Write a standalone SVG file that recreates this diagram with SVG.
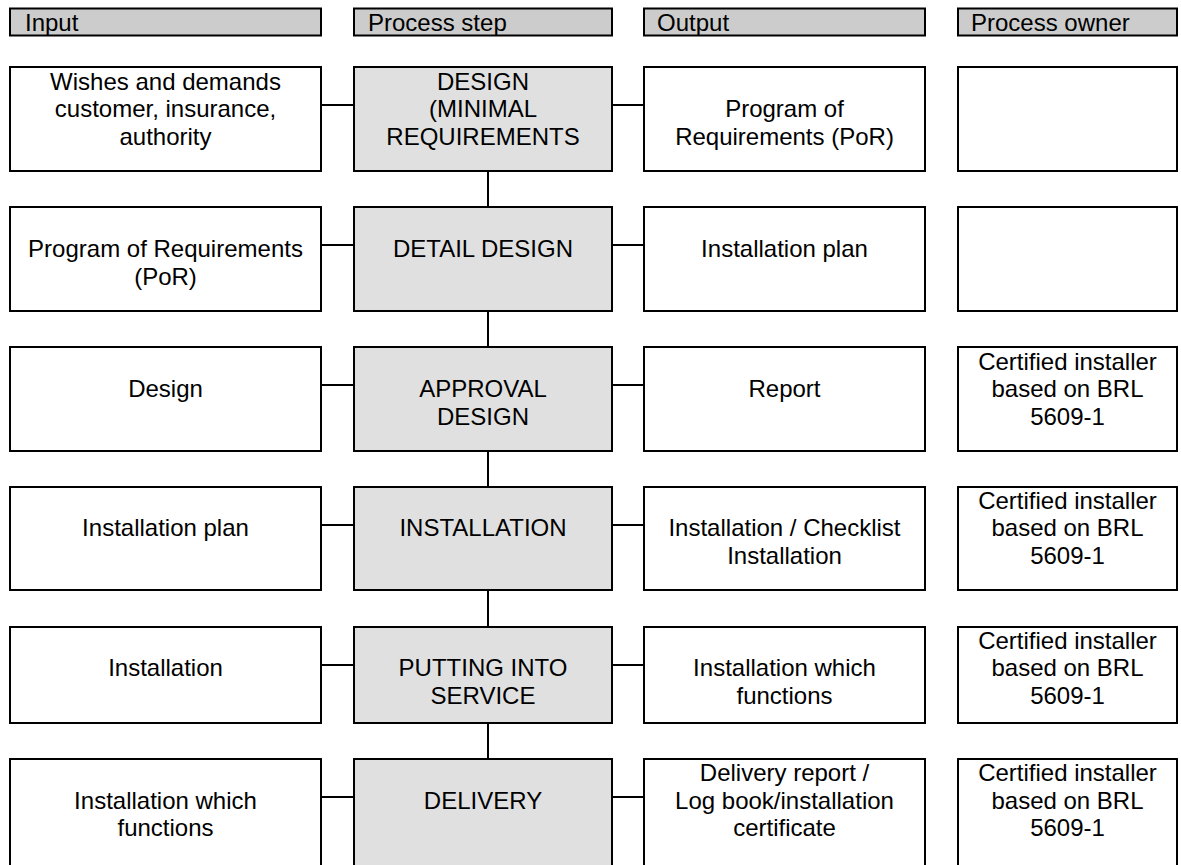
<svg xmlns="http://www.w3.org/2000/svg" width="1181" height="865" viewBox="0 0 1181 865">
  <style>
    .hdr { fill: #cccccc; stroke: #000; stroke-width: 2; }
    .box { fill: #ffffff; stroke: #000; stroke-width: 2; }
    .step { fill: #e0e0e0; stroke: #000; stroke-width: 2; }
    .link { stroke: #000; stroke-width: 2; fill: none; }
    text { font-family: "Liberation Sans", Arial, sans-serif; font-size: 24px; fill: #000; }
    .c { text-anchor: middle; }
  </style>
  <rect width="1181" height="865" fill="#ffffff"/>

  <!-- column headers -->
  <g id="headers">
    <rect class="hdr" x="10" y="8.5" width="311" height="27"/>
    <text x="25" y="31">Input</text>
    <rect class="hdr" x="354" y="8.5" width="258" height="27"/>
    <text x="368" y="31">Process step</text>
    <rect class="hdr" x="644" y="8.5" width="281" height="27"/>
    <text x="657" y="31">Output</text>
    <rect class="hdr" x="958" y="8.5" width="219" height="27"/>
    <text x="971" y="31">Process owner</text>
  </g>

  <!-- connectors -->
  <g id="connectors">
    <line class="link" x1="488" y1="172" x2="488" y2="206"/>
    <line class="link" x1="488" y1="312" x2="488" y2="346"/>
    <line class="link" x1="488" y1="452" x2="488" y2="487"/>
    <line class="link" x1="488" y1="591" x2="488" y2="626"/>
    <line class="link" x1="488" y1="724" x2="488" y2="758"/>
    <line class="link" x1="322" y1="105" x2="354" y2="105"/>
    <line class="link" x1="612" y1="105" x2="644" y2="105"/>
    <line class="link" x1="322" y1="245" x2="354" y2="245"/>
    <line class="link" x1="612" y1="245" x2="644" y2="245"/>
    <line class="link" x1="322" y1="385" x2="354" y2="385"/>
    <line class="link" x1="612" y1="385" x2="644" y2="385"/>
    <line class="link" x1="322" y1="525" x2="354" y2="525"/>
    <line class="link" x1="612" y1="525" x2="644" y2="525"/>
    <line class="link" x1="322" y1="665" x2="354" y2="665"/>
    <line class="link" x1="612" y1="665" x2="644" y2="665"/>
    <line class="link" x1="322" y1="797" x2="354" y2="797"/>
    <line class="link" x1="612" y1="797" x2="644" y2="797"/>
  </g>

  <!-- row 1 -->
  <g id="in1">
    <rect class="box" x="10" y="67" width="311" height="104"/>
    <text class="c" x="165.5" y="89.5">Wishes and demands</text>
    <text class="c" x="165.5" y="117">customer, insurance,</text>
    <text class="c" x="165.5" y="144.5">authority</text>
  </g>
  <g id="step1">
    <rect class="step" x="354" y="67" width="258" height="104"/>
    <text class="c" x="483" y="89.5">DESIGN</text>
    <text class="c" x="483" y="117">(MINIMAL</text>
    <text class="c" x="483" y="144.5">REQUIREMENTS</text>
  </g>
  <g id="out1">
    <rect class="box" x="644" y="67" width="281" height="104"/>
    <text class="c" x="784.5" y="117">Program of</text>
    <text class="c" x="784.5" y="144.5">Requirements (PoR)</text>
  </g>
  <g id="own1">
    <rect class="box" x="958" y="67" width="219" height="104"/>
  </g>

  <!-- row 2 -->
  <g id="in2">
    <rect class="box" x="10" y="207" width="311" height="104"/>
    <text class="c" x="165.5" y="257">Program of Requirements</text>
    <text class="c" x="165.5" y="284.5">(PoR)</text>
  </g>
  <g id="step2">
    <rect class="step" x="354" y="207" width="258" height="104"/>
    <text class="c" x="483" y="257">DETAIL DESIGN</text>
  </g>
  <g id="out2">
    <rect class="box" x="644" y="207" width="281" height="104"/>
    <text class="c" x="784.5" y="257">Installation plan</text>
  </g>
  <g id="own2">
    <rect class="box" x="958" y="207" width="219" height="104"/>
  </g>

  <!-- row 3 -->
  <g id="in3">
    <rect class="box" x="10" y="347" width="311" height="104"/>
    <text class="c" x="165.5" y="397">Design</text>
  </g>
  <g id="step3">
    <rect class="step" x="354" y="347" width="258" height="104"/>
    <text class="c" x="483" y="397">APPROVAL</text>
    <text class="c" x="483" y="424.5">DESIGN</text>
  </g>
  <g id="out3">
    <rect class="box" x="644" y="347" width="281" height="104"/>
    <text class="c" x="784.5" y="397">Report</text>
  </g>
  <g id="own3">
    <rect class="box" x="958" y="347" width="219" height="104"/>
    <text class="c" x="1067.5" y="369.5">Certified installer</text>
    <text class="c" x="1067.5" y="397">based on BRL</text>
    <text class="c" x="1067.5" y="424.5">5609-1</text>
  </g>

  <!-- row 4 -->
  <g id="in4">
    <rect class="box" x="10" y="487" width="311" height="103"/>
    <text class="c" x="165.5" y="536">Installation plan</text>
  </g>
  <g id="step4">
    <rect class="step" x="354" y="487" width="258" height="103"/>
    <text class="c" x="483" y="536">INSTALLATION</text>
  </g>
  <g id="out4">
    <rect class="box" x="644" y="487" width="281" height="103"/>
    <text class="c" x="784.5" y="536">Installation / Checklist</text>
    <text class="c" x="784.5" y="563.5">Installation</text>
  </g>
  <g id="own4">
    <rect class="box" x="958" y="487" width="219" height="103"/>
    <text class="c" x="1067.5" y="508.5">Certified installer</text>
    <text class="c" x="1067.5" y="536">based on BRL</text>
    <text class="c" x="1067.5" y="563.5">5609-1</text>
  </g>

  <!-- row 5 -->
  <g id="in5">
    <rect class="box" x="10" y="627" width="311" height="96"/>
    <text class="c" x="165.5" y="676">Installation</text>
  </g>
  <g id="step5">
    <rect class="step" x="354" y="627" width="258" height="96"/>
    <text class="c" x="483" y="676">PUTTING INTO</text>
    <text class="c" x="483" y="703.5">SERVICE</text>
  </g>
  <g id="out5">
    <rect class="box" x="644" y="627" width="281" height="96"/>
    <text class="c" x="784.5" y="676">Installation which</text>
    <text class="c" x="784.5" y="703.5">functions</text>
  </g>
  <g id="own5">
    <rect class="box" x="958" y="627" width="219" height="96"/>
    <text class="c" x="1067.5" y="648.5">Certified installer</text>
    <text class="c" x="1067.5" y="676">based on BRL</text>
    <text class="c" x="1067.5" y="703.5">5609-1</text>
  </g>

  <!-- row 6 (runs past the lower edge) -->
  <g id="in6">
    <rect class="box" x="10" y="759" width="311" height="120"/>
    <text class="c" x="165.5" y="808.5">Installation which</text>
    <text class="c" x="165.5" y="836">functions</text>
  </g>
  <g id="step6">
    <rect class="step" x="354" y="759" width="258" height="120"/>
    <text class="c" x="483" y="808.5">DELIVERY</text>
  </g>
  <g id="out6">
    <rect class="box" x="644" y="759" width="281" height="120"/>
    <text class="c" x="784.5" y="781">Delivery report /</text>
    <text class="c" x="784.5" y="808.5">Log book/installation</text>
    <text class="c" x="784.5" y="836">certificate</text>
  </g>
  <g id="own6">
    <rect class="box" x="958" y="759" width="219" height="120"/>
    <text class="c" x="1067.5" y="781">Certified installer</text>
    <text class="c" x="1067.5" y="808.5">based on BRL</text>
    <text class="c" x="1067.5" y="836">5609-1</text>
  </g>
</svg>
